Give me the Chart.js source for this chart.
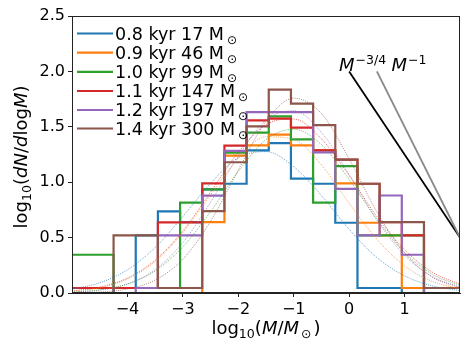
<!DOCTYPE html>
<html><head><meta charset="utf-8">
<script src="https://cdn.jsdelivr.net/npm/chart.js@4.4.1/dist/chart.umd.min.js"></script>
<style>html,body{margin:0;padding:0;background:#fff;}</style>
</head><body>
<canvas id="c" width="474" height="356"></canvas>
<script>
// ---- data ----
const binEdges = [-5.05,-4.65,-4.25,-3.85,-3.45,-3.05,-2.65,-2.25,-1.85,-1.45,-1.05,-0.65,-0.25,0.15,0.55,0.95,1.35,1.75,2.15];
const seriesTimes = ['0.8 kyr 17','0.9 kyr 46','1.0 kyr 99','1.1 kyr 147','1.2 kyr 197','1.4 kyr 300'];
// log10(dN/dlogM) per bin (null = no bin)
const histBlue   = [null,null,0.045,0.52,0.736,0.64,0.935,0.986,1.287,1.353,1.032,0.986,0.634,0.045,0.045,null,null,null];
const histOrange = [null,null,null,null,null,null,0.64,1.24,1.332,1.429,1.332,1.29,0.99,0.634,0.52,0.045,null,null];
const histGreen  = [0.345,0.345,0.045,0.045,0.045,0.815,0.935,1.266,1.447,1.594,1.387,0.815,1.145,0.52,0.52,0.52,null,null];
const histRed    = [0.045,0.045,0.045,0.045,0.637,0.637,0.99,1.33,1.558,1.573,1.492,1.287,1.203,0.986,0.64,0.52,null,null];
const histPurple = [null,null,null,0.045,0.52,0.52,0.878,1.283,1.633,1.633,1.633,1.27,0.94,0.52,0.88,0.345,null,null];
const histBrown  = [null,null,0.52,0.52,0.045,0.045,0.739,1.18,1.504,1.836,1.709,1.516,1.203,0.986,0.64,0.64,0.045,0.045];
// fitted curves (dotted), read at these log10 M positions
const curveX = [-5,-4.5,-4,-3.5,-3,-2.5,-2,-1.5,-1,-0.5,0,0.5,1,1.5,2];
const fitBlue   = [0.035,0.092,0.21,0.41,0.69,0.99,1.22,1.276,1.14,0.88,0.575,0.32,0.155,0.064,0.022];
const fitOrange = [0.015,0.047,0.126,0.285,0.546,0.885,1.215,1.41,1.387,1.155,0.81,0.486,0.245,0.105,0.038];
const fitGreen  = [0.008,0.028,0.081,0.2,0.417,0.735,1.096,1.384,1.478,1.339,1.025,0.665,0.365,0.17,0.067];
const fitRed    = [0.018,0.053,0.135,0.297,0.56,0.91,1.27,1.52,1.57,1.39,1.06,0.69,0.39,0.188,0.079];
const fitPurple = [0.007,0.027,0.082,0.211,0.455,0.82,1.235,1.56,1.645,1.45,1.07,0.66,0.34,0.148,0.053];
const fitBrown  = [0.002,0.009,0.036,0.117,0.305,0.647,1.11,1.55,1.758,1.62,1.21,0.733,0.361,0.144,0.047];
// reference power laws
const slope34X = [0, 2];   const slope34Y = [2.0, 0.5];
const slope1X  = [0.5, 2]; const slope1Y  = [2.0, 0.5];
const xTickValues = [-4,-3,-2,-1,0,1];
const yTickValues = [0,0.5,1,1.5,2,2.5];

// ---- styling ----
const colors = ['#1f77b4','#ff7f0e','#2ca02c','#d62728','#9467bd','#8c564b'];
const fitColors = ['rgba(31,119,180,0.7)','rgba(255,127,14,0.7)','rgba(44,160,44,0.7)','rgba(214,39,40,0.7)','rgba(148,103,189,0.7)','rgba(140,86,75,0.7)'];
const FONT = 'DejaVu Sans';
Chart.defaults.font.family = FONT;
Chart.defaults.color = '#000';

function stepPoints(vals){
  let i0 = vals.findIndex(v=>v!==null);
  let i1 = vals.length-1; while(vals[i1]===null) i1--;
  const pts=[{x:binEdges[i0],y:0}];
  for(let i=i0;i<=i1;i++) pts.push({x:binEdges[i],y:vals[i]});
  pts.push({x:binEdges[i1+1],y:0});
  return pts;
}
const hists=[histBlue,histOrange,histGreen,histRed,histPurple,histBrown];
const fits=[fitBlue,fitOrange,fitGreen,fitRed,fitPurple,fitBrown];
const datasets=[];
hists.forEach((h,i)=>{
  datasets.push({data:stepPoints(h),borderColor:colors[i],borderWidth:2.2,stepped:'before',pointRadius:0,fill:false,order:10-i,clip:0});
});
fits.forEach((f,i)=>{
  datasets.push({data:curveX.map((x,j)=>({x:x,y:f[j]})),borderColor:fitColors[i],borderWidth:1,borderDash:[1,1.2],cubicInterpolationMode:'monotone',pointRadius:0,fill:false,order:-10+i,clip:0});
});
datasets.push({data:slope34X.map((x,j)=>({x:x,y:slope34Y[j]})),borderColor:'#000',borderWidth:1.8,pointRadius:0,order:-20,clip:0});
datasets.push({data:slope1X.map((x,j)=>({x:x,y:slope1Y[j]})),borderColor:'#888',borderWidth:1.8,pointRadius:0,order:-21,clip:0});

function drawPieces(ctx, pieces, x, y, align){
  let w=0;
  pieces.forEach(p=>{ctx.font=p.f; w+=ctx.measureText(p.t).width + (p.gap||0);});
  let cx = align==='center'? x-w/2 : x;
  pieces.forEach(p=>{ctx.font=p.f; ctx.fillText(p.t, cx+(p.gap||0), y+(p.dy||0)); cx+=ctx.measureText(p.t).width+(p.gap||0);});
}

const overlay={id:'overlay',afterDraw(chart){
  const ctx=chart.ctx, a=chart.chartArea;
  ctx.save();
  ctx.strokeStyle='#222'; ctx.lineWidth=1;
  ctx.strokeRect(Math.round(a.left)+0.5,Math.round(a.top)+0.5,Math.round(a.right-a.left)-1,Math.round(a.bottom-a.top)-1);
  ctx.fillStyle='#000'; ctx.textBaseline='alphabetic'; ctx.textAlign='left';
  const rowY=[33.5,52.7,71.8,91,110,128.5];
  seriesTimes.forEach((t,i)=>{
    const y=rowY[i];
    ctx.strokeStyle=colors[i]; ctx.lineWidth=2.2; ctx.beginPath(); ctx.moveTo(77,y); ctx.lineTo(113,y); ctx.stroke();
    ctx.fillStyle='#000';
    drawPieces(ctx,[{t:t+' M',f:'17.5px '+FONT},{t:'\u2299',f:'12px '+FONT,dy:4,gap:3}],115,y+6.3,'left');
  });
  drawPieces(ctx,[{t:'M',f:'italic 18px '+FONT},{t:'\u22123/4',f:'12.5px '+FONT,dy:-7,gap:1}],339,71,'left');
  drawPieces(ctx,[{t:'M',f:'italic 18px '+FONT},{t:'\u22121',f:'12.5px '+FONT,dy:-7,gap:1}],391.5,71,'left');
  const n='18px '+FONT, it='italic 18px '+FONT, sm='12.6px '+FONT;
  drawPieces(ctx,[{t:'log',f:n},{t:'10',f:sm,dy:4},{t:'(',f:n},{t:'M',f:it},{t:'/',f:n},{t:'M',f:it},{t:'\u2299',f:sm,dy:4,gap:2},{t:')',f:n,gap:2}],266,334,'center');
  ctx.translate(27,157); ctx.rotate(-Math.PI/2);
  drawPieces(ctx,[{t:'log',f:n},{t:'10',f:sm,dy:4},{t:'(',f:n},{t:'dN',f:it},{t:'/',f:n},{t:'d',f:it},{t:'log',f:n},{t:'M',f:it},{t:')',f:n}],0,0,'center');
  ctx.restore();
}};

new Chart(document.getElementById('c'),{
  type:'line',
  data:{datasets},
  options:{
    responsive:false, devicePixelRatio:1, animation:false,
    layout:{padding:{left:0,right:14,top:16,bottom:0}},
    plugins:{legend:{display:false},tooltip:{enabled:false}},
    scales:{
      x:{type:'linear',min:-5,max:2,
         afterBuildTicks:s=>{s.ticks=xTickValues.map(v=>({value:v}));},
         afterFit:s=>{s.height=63;},
         ticks:{font:{size:16},color:'#000',padding:3,maxRotation:0,callback:v=>v<0?'\u2212'+Math.abs(v):String(v)},
         grid:{drawOnChartArea:false,drawTicks:true,tickLength:4,color:'#222'},
         border:{display:true,color:'#222'}},
      y:{type:'linear',min:0,max:2.5,
         afterBuildTicks:s=>{s.ticks=yTickValues.map(v=>({value:v}));},
         afterFit:s=>{s.width=72;},
         ticks:{font:{size:16},color:'#000',padding:3,callback:v=>v.toFixed(1)},
         grid:{drawOnChartArea:false,drawTicks:true,tickLength:4,color:'#222'},
         border:{display:true,color:'#222'}}
    }
  },
  plugins:[overlay]
});
</script>
</body></html>
